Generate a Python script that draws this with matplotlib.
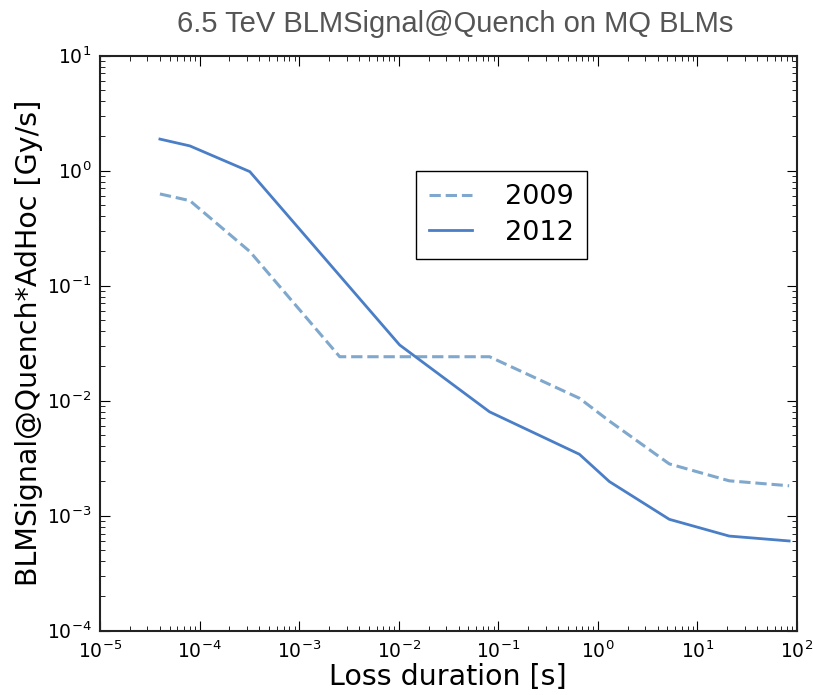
import numpy as np
import matplotlib
matplotlib.use("Agg")
import matplotlib.pyplot as plt

# BLM running-sum integration times [s]
t_2009 = [4e-5, 8e-5, 3.2e-4, 2.56e-3, 1.024e-2, 8.192e-2, 0.65536, 1.31072, 5.24288, 20.97152, 83.88608]
t_2012 = [4e-5, 8e-5, 3.2e-4, 1.024e-2, 8.192e-2, 0.65536, 1.31072, 5.24288, 20.97152, 83.88608]

# signal at quench [Gy/s]
sig_2009 = [0.627, 0.548, 0.198, 0.0241, 0.0241, 0.0241, 0.0105, 0.00665, 0.00282, 0.00201, 0.00182]
sig_2012 = [1.88, 1.64, 0.98, 0.0305, 0.0080, 0.00342, 0.00198, 0.00093, 0.000665, 0.000603]

plt.rcParams.update({
    "font.family": "DejaVu Sans",
    "mathtext.fontset": "dejavusans",
    "xtick.direction": "in", "ytick.direction": "in",
    "xtick.top": True, "ytick.right": True,
    "xtick.major.size": 7, "ytick.major.size": 7,
    "xtick.minor.size": 3.5, "ytick.minor.size": 3.5,
    "xtick.major.pad": 7, "ytick.major.pad": 6,
})

fig = plt.figure(figsize=(8.13, 6.95), dpi=100)
ax = fig.add_axes([0.123, 0.0925, 0.857, 0.8275])

ax.plot(t_2009, sig_2009, "--", color="#7fa8cc", lw=2.2, label="2009")
ax.plot(t_2012, sig_2012, "-", color="#4a7ec6", lw=2.0, label="2012")

ax.set_xscale("log")
ax.set_yscale("log")
ax.set_xlim(1e-5, 1e2)
ax.set_ylim(1e-4, 1e1)
ax.tick_params(labelsize=13.5)
for sp in ax.spines.values():
    sp.set_linewidth(1.5)
    sp.set_color("#222222")

ax.set_xlabel("Loss duration [s]", fontsize=20.5, labelpad=1)
ax.set_ylabel("BLMSignal@Quench*AdHoc [Gy/s]", fontsize=20.5, labelpad=3)
fig.suptitle("6.5 TeV BLMSignal@Quench on MQ BLMs", x=0.56, y=0.986,
             fontsize=21, color="#555555", family="Liberation Sans")

leg = ax.legend(loc="upper left", bbox_to_anchor=(0.453, 0.80), borderaxespad=0,
                fontsize=19.5, fancybox=False, framealpha=1, edgecolor="black",
                handlelength=1.6, handletextpad=1.2, borderpad=0.5, labelspacing=0.35)
leg.get_frame().set_linewidth(1.0)

fig.savefig("out.png", dpi=100)
